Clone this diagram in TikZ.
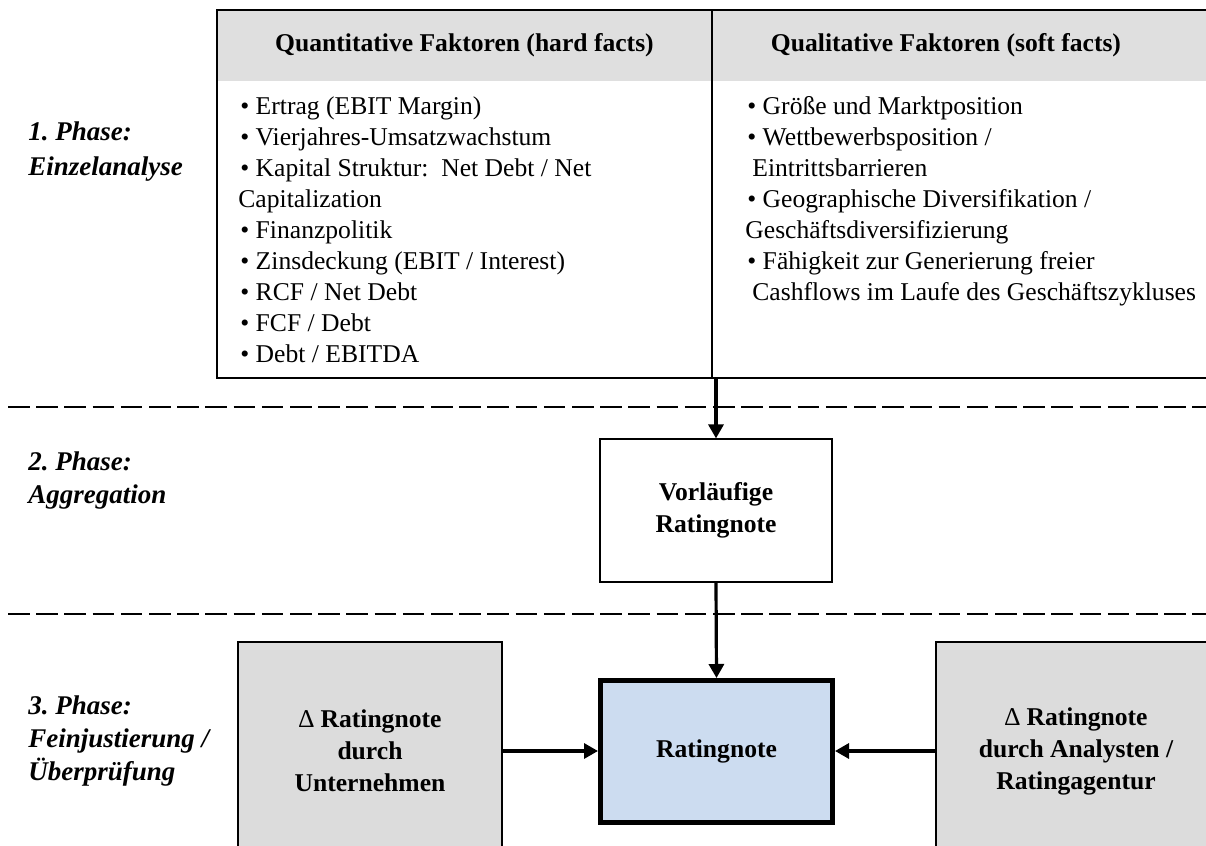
\documentclass[tikz,border=0pt]{standalone}
\usepackage{fontspec}
\setmainfont{Liberation Serif}
\usetikzlibrary{arrows.meta}
\definecolor{hdrgray}{HTML}{DFDFDF}
\definecolor{boxgray}{HTML}{DCDCDC}
\definecolor{ratblue}{HTML}{CCDCF0}
\frenchspacing
\begin{document}
\begin{tikzpicture}[x=0.5pt,y=-0.5pt,
  bodytxt/.style={font=\fontsize{12.8}{15.5}\selectfont, inner sep=0pt, anchor=base west},
  hdrtxt/.style={font=\fontsize{12.8}{16}\selectfont\bfseries, inner sep=0pt},
  phasetxt/.style={font=\fontsize{13.5}{16.5}\selectfont\bfseries\itshape, align=left, anchor=west, inner sep=0pt},
  boxtxt/.style={font=\fontsize{12.8}{16}\selectfont\bfseries, align=center},
  cell/.style={rectangle, inner sep=0pt, outer sep=0pt, draw=none},
  frame/.style={line width=0.8pt},
  phaseline/.style={line width=1.4pt, dash pattern=on 10.8pt off 3.3pt},
  flow/.style={line width=1.6pt, -{Triangle[length=7pt,width=7.5pt]}},
  graybox/.style={rectangle, draw, line width=0.6pt, fill=boxgray, boxtxt},
  whitebox/.style={rectangle, draw, line width=0.6pt, fill=white, boxtxt},
  ratbox/.style={rectangle, draw, line width=2.5pt, fill=ratblue, boxtxt}]
\useasboundingbox (0,0) rectangle (1206,846);
\clip (0,0) rectangle (1206,846);

% phase separators
\draw[phaseline] (8,407) -- (1210,407);
\draw[phaseline] (8,614) -- (1210,614);

% table
\node[cell, fill=hdrgray, minimum width=247.5pt, minimum height=35.5pt] (h1) at (464.5,45.5) {};
\node[cell, fill=hdrgray, minimum width=250pt, minimum height=35.5pt] (h2) at (962,45.5) {};
\node[cell, fill=white, minimum width=247.5pt, minimum height=148.5pt] (b1) at (464.5,229.5) {};
\node[cell, fill=white, minimum width=250pt, minimum height=148.5pt] (b2) at (962,229.5) {};
\draw[frame] (h2.north east) -- (h1.north west) -- (b1.south west) -- (b2.south east);
\draw[frame] (h1.north east) -- (b1.south east);

\node[hdrtxt] (t1) at (h1) {Quantitative Faktoren (hard facts)};
\node[hdrtxt] (t2) at (946,45.5) {Qualitative Faktoren (soft facts)};

\node[bodytxt] (q1) at (240,114) {• Ertrag (EBIT Margin)};
\node[bodytxt] (q2) at (240,145) {• Vierjahres-Umsatzwachstum};
\node[bodytxt] (q3) at (240,176) {• Kapital Struktur:\ \ Net Debt / Net};
\node[bodytxt] (q4) at (238,207) {Capitalization};
\node[bodytxt] (q5) at (240,238) {• Finanzpolitik};
\node[bodytxt] (q6) at (240,269) {• Zinsdeckung (EBIT / Interest)};
\node[bodytxt] (q7) at (240,300) {• RCF / Net Debt};
\node[bodytxt] (q8) at (240,331) {• FCF / Debt};
\node[bodytxt] (q9) at (240,362) {• Debt / EBITDA};

\node[bodytxt] (s1) at (747,114) {• Größe und Marktposition};
\node[bodytxt] (s2) at (747,145) {• Wettbewerbsposition /};
\node[bodytxt] (s3) at (752,176) {Eintrittsbarrieren};
\node[bodytxt] (s4) at (747,207) {• Geographische Diversifikation /};
\node[bodytxt] (s5) at (745,238) {Geschäftsdiversifizierung};
\node[bodytxt] (s6) at (747,269) {• Fähigkeit zur Generierung freier};
\node[bodytxt] (s7) at (752,300) {Cashflows im Laufe des Geschäftszykluses};

% phase labels
\node[phasetxt] (p1) at (28,152) {1. Phase:\\[1pt]Einzelanalyse};
\node[phasetxt] (p2) at (28,481) {2. Phase:\\Aggregation};
\node[phasetxt] (p3) at (28,741) {3. Phase:\\Feinjustierung /\\Überprüfung};

% boxes
\node[whitebox, minimum width=116pt, minimum height=71.5pt] (vor) at (716,510.5) {Vorläufige\\Ratingnote};
\node[ratbox, minimum width=116pt, minimum height=71pt] (rat) at (716.5,751.5) {Ratingnote};
\node[graybox, minimum width=132pt, minimum height=109pt] (lbox) at (370,751) {{\mdseries ∆} Ratingnote\\durch\\Unternehmen};
\node[graybox, minimum width=140pt, minimum height=109pt] (rbox) at (1076,751) {{\mdseries ∆} Ratingnote\\durch Analysten /\\Ratingagentur};

% connectors
\draw[flow] (vor.north |- b2.south) -- (vor.north);
\draw[flow] (vor.south) -- (rat.north);
\draw[flow] (lbox.east) -- (lbox.east -| rat.west);
\draw[flow] (rbox.west) -- (rbox.west -| rat.east);
\end{tikzpicture}
\end{document}
